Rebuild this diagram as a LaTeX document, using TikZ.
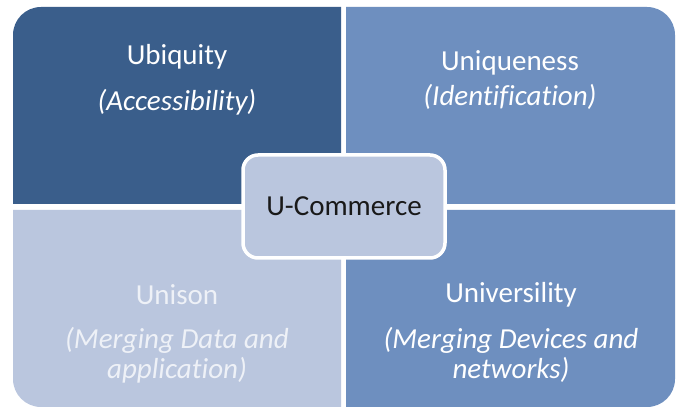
\documentclass[tikz,border=0pt]{standalone}
\usepackage{fontspec}
\setmainfont{Carlito}[Ligatures=NoCommon]
\definecolor{darkpanel}{RGB}{58,94,139}
\definecolor{midpanel}{RGB}{110,143,191}
\definecolor{lightpanel}{RGB}{186,198,222}
\definecolor{softwhite}{RGB}{238,241,247}
\tikzset{
  paneltitle/.style={text=white,font=\fontsize{29}{30}\selectfont},
  panelnote/.style={text=white,font=\fontsize{29}{30}\selectfont\itshape,align=center},
}
\begin{document}
\begin{tikzpicture}[x=1pt,y=1pt]
    \useasboundingbox [fill=white] (0,0) rectangle (680,409);
    \fill [darkpanel] (13,205) -- (13,374) arc[start angle=180,end angle=90,radius=28] -- (341,402) -- (341,205) -- cycle;
    \fill [midpanel] (346,205) -- (346,402) -- (647,402) arc[start angle=90,end angle=0,radius=28] -- (675,205) -- cycle;
    \fill [lightpanel] (13,199) -- (341,199) -- (341,2) -- (41,2) arc[start angle=270,end angle=180,radius=28] -- cycle;
    \fill [midpanel] (346,199) -- (675,199) -- (675,30) arc[start angle=0,end angle=-90,radius=28] -- (346,2) -- cycle;
    \node [paneltitle] (ubiq) at (177,352) {Ubiquity};
    \node [panelnote] (ubiqnote) at (177,307) {(Accessibility)};
    \node [paneltitle] (uniq) at (510,346) {Uniqueness};
    \node [panelnote] (uniqnote) at (510,312) {(Identification)};
    \node [paneltitle,text=softwhite] (unison) at (177,114) {Unison};
    \node [panelnote,text=softwhite] (unisonnote) at (177,54) {(Merging Data and\\application)};
    \node [paneltitle] (univ) at (511,114) {Universility};
    \node [panelnote] (univnote) at (511,54) {(Merging Devices and\\networks)};
    \node [draw=white,line width=3.5pt,fill=lightpanel,rounded corners=15pt,minimum width=202pt,minimum height=103pt,text=black!90,font=\fontsize{29}{30}\selectfont] (ucom) at (344,202.5) {U-Commerce};
\end{tikzpicture}
\end{document}
